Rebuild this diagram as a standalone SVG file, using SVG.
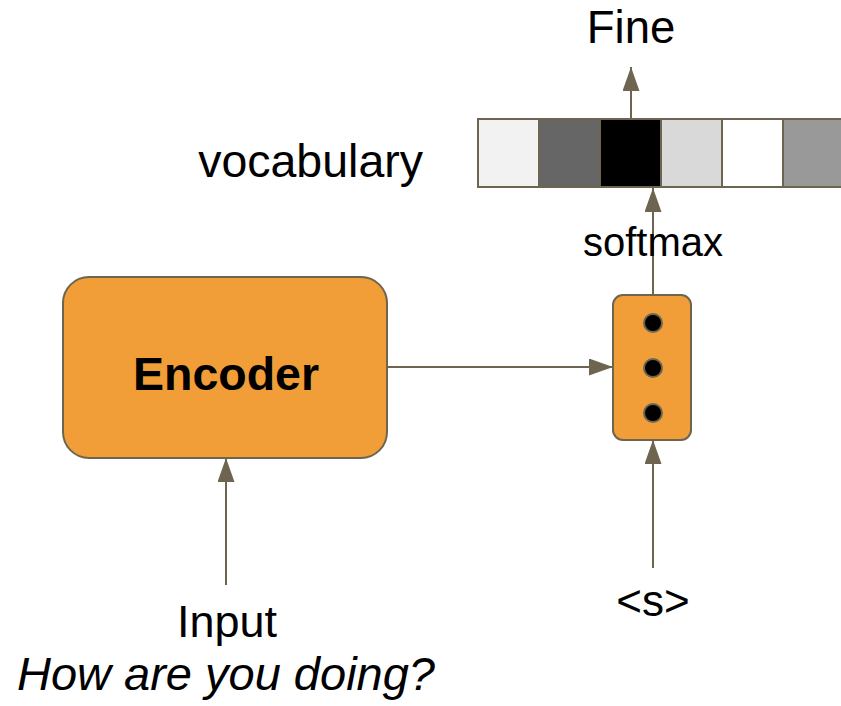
<svg xmlns="http://www.w3.org/2000/svg" width="841" height="706" viewBox="0 0 841 706">
<style>
.t{font-family:"Liberation Sans",Arial,sans-serif;fill:#000}
.c{fill:none;stroke:#6e6550;stroke-width:2}
.cell{stroke:#6e6550;stroke-width:2}
.box{fill:#f19d38;stroke:#6e6550;stroke-width:2}
.dot{fill:#000;stroke:#6e6550;stroke-width:2}
</style>
<defs>
<marker id="ah" markerUnits="userSpaceOnUse" markerWidth="24" markerHeight="18" refX="24" refY="8.5" orient="auto">
<path d="M0,0 L24,8.5 L0,17 z" fill="#6e6550"/>
</marker>
</defs>
<rect width="841" height="706" fill="#fff"/>
<g id="connectors">
<line class="c" x1="631" y1="118" x2="631" y2="67" marker-end="url(#ah)"/>
<line class="c" x1="653" y1="296" x2="653" y2="188" marker-end="url(#ah)"/>
<line class="c" x1="387" y1="367" x2="613" y2="367" marker-end="url(#ah)"/>
<line class="c" x1="226" y1="585" x2="226" y2="458" marker-end="url(#ah)"/>
<line class="c" x1="653" y1="568" x2="653" y2="440" marker-end="url(#ah)"/>
</g>
<g id="vocab">
<rect class="cell" x="478" y="119" width="61" height="68" fill="#f2f2f2"/>
<rect class="cell" x="539" y="119" width="61" height="68" fill="#666666"/>
<rect class="cell" x="600" y="119" width="61" height="68" fill="#000000"/>
<rect class="cell" x="661" y="119" width="61" height="68" fill="#d9d9d9"/>
<rect class="cell" x="722" y="119" width="61" height="68" fill="#ffffff"/>
<rect class="cell" x="783" y="119" width="61" height="68" fill="#999999"/>
</g>
<g id="encoder">
<rect class="box" x="63" y="277" width="324" height="181" rx="26"/>
<text class="t" x="226" y="390" font-size="46.5" font-weight="bold" text-anchor="middle">Encoder</text>
</g>
<g id="decoder">
<rect class="box" x="613" y="295" width="78" height="145" rx="10"/>
<circle class="dot" cx="653" cy="323" r="9"/>
<circle class="dot" cx="653" cy="368" r="9"/>
<circle class="dot" cx="653" cy="413" r="9"/>
</g>
<g id="labels">
<text class="t" x="631" y="43" font-size="45.5" text-anchor="middle">Fine</text>
<text class="t" x="423" y="177" font-size="46.5" text-anchor="end">vocabulary</text>
<text class="t" x="653" y="256" font-size="40" text-anchor="middle">softmax</text>
<text class="t" x="227" y="637" font-size="45" text-anchor="middle">Input</text>
<text class="t" x="226" y="690" font-size="47" font-style="italic" text-anchor="middle">How are you doing?</text>
<text class="t" x="653" y="616" font-size="44" text-anchor="middle">&lt;s&gt;</text>
</g>
</svg>
